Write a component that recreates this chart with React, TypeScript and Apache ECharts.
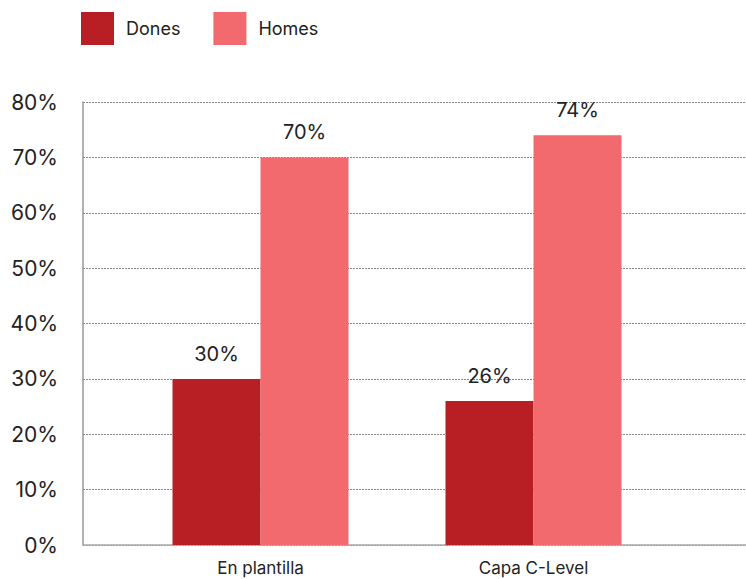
import React, { useEffect, useRef } from "react";
import * as echarts from "echarts";

const categories = ["En plantilla", "Capa C-Level"];
const donesValues = [30, 26];
const homesValues = [70, 74];
const yTicks = [0, 10, 20, 30, 40, 50, 60, 70, 80];

const FONT = "Inter, 'Noto Sans', sans-serif";
const TEXT = "#222222";

export default function App() {
  const ref = useRef<HTMLDivElement>(null);
  useEffect(() => {
    document.body.style.margin = "0";
    if (!ref.current) return;
    const chart = echarts.init(ref.current, undefined, { renderer: "svg" });
    const labelStyle = {
      show: true,
      position: "top" as const,
      distance: 15,
      formatter: (p: any) => `${p.value}%`,
      color: TEXT,
      fontSize: 20,
      fontFamily: FONT,
    };
    chart.setOption({
      animation: false,
      textStyle: { fontFamily: FONT },
      legend: {
        left: 81,
        top: 12,
        padding: 0,
        itemWidth: 33,
        itemHeight: 33,
        itemGap: 33,
        icon: "rect",
        textStyle: { color: TEXT, fontSize: 18, fontFamily: FONT, padding: [0, 0, 0, 7] },
        data: ["Dones", "Homes"],
      },
      grid: [
        { left: 83, right: 0, top: 102, bottom: 34, containLabel: false },
        { left: 124, right: 76, top: 102, bottom: 34, containLabel: false },
      ],
      xAxis: [
        {
          type: "category",
          gridIndex: 0,
          data: [""],
          axisLine: { show: true, lineStyle: { color: "#aaaaaa", width: 1.5 } },
          axisTick: { show: false },
          axisLabel: { show: false },
        },
        {
          type: "category",
          gridIndex: 1,
          data: categories,
          axisLine: { show: false },
          axisTick: { show: false },
          axisLabel: { color: TEXT, fontSize: 17, fontFamily: FONT, margin: 14 },
        },
      ],
      yAxis: [
        {
          type: "value",
          gridIndex: 0,
          min: yTicks[0],
          max: yTicks[yTicks.length - 1],
          interval: 10,
          axisLine: { show: true, lineStyle: { color: "#999999", width: 1.5 } },
          axisTick: { show: false },
          axisLabel: {
            formatter: (v: number) => `${v}%`,
            color: TEXT,
            fontSize: 21,
            fontFamily: FONT,
            margin: 25,
          },
          splitLine: { show: true, lineStyle: { color: "#888888", type: [2, 1], width: 1 } },
        },
        {
          type: "value",
          gridIndex: 1,
          min: yTicks[0],
          max: yTicks[yTicks.length - 1],
          interval: 10,
          show: false,
          splitLine: { show: false },
        },
      ],
      series: [
        {
          name: "Dones",
          type: "bar",
          xAxisIndex: 1,
          yAxisIndex: 1,
          data: donesValues,
          barWidth: 88,
          barGap: "0%",
          itemStyle: { color: "#B81F24" },
          label: labelStyle,
        },
        {
          name: "Homes",
          type: "bar",
          xAxisIndex: 1,
          yAxisIndex: 1,
          data: homesValues,
          barWidth: 88,
          barGap: "0%",
          itemStyle: { color: "#F26A6E" },
          label: labelStyle,
        },
      ],
    });
    return () => chart.dispose();
  }, []);
  return <div ref={ref} style={{ width: 746, height: 579 }} />;
}
